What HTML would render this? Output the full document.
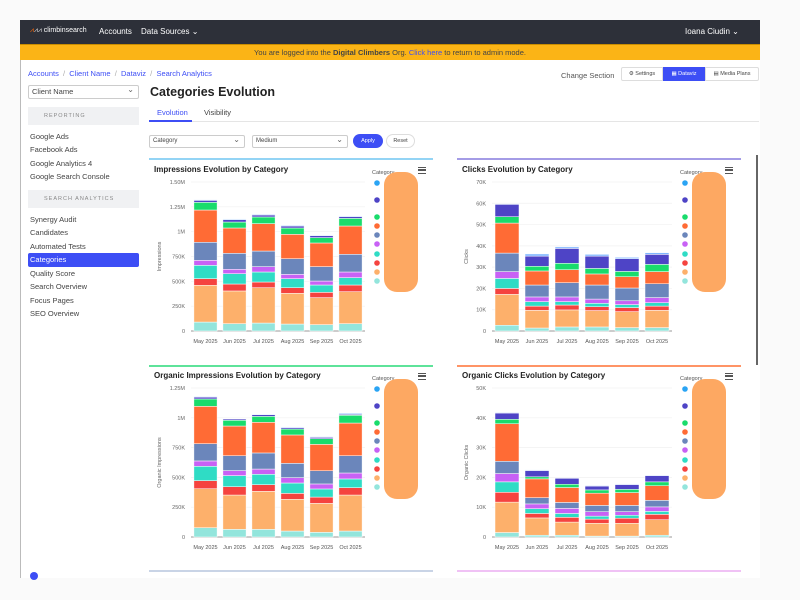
<!DOCTYPE html>
<html><head><meta charset="utf-8">
<style>
*{box-sizing:border-box;margin:0;padding:0}
body{width:800px;height:600px;background:#fafafa;font-family:"Liberation Sans",sans-serif;position:relative;overflow:hidden;color:#333}
.abs{position:absolute}
#app{left:20px;top:20px;width:740px;height:558px;background:#fff;border-left:1px solid #bbb}
#topbar{left:20px;top:20px;width:740px;height:24px;background:#2d3039;color:#fff;font-size:8px}
#banner{left:20px;top:44px;width:740px;height:16px;background:#fbb416;font-size:7.5px;color:#444;text-align:center;line-height:16px;border-top:1px solid #c98d00}
.side-item{position:absolute;left:30px;font-size:7.5px;color:#444}
.sec{position:absolute;left:28px;width:111px;height:18px;background:#f0f1f3;font-size:5.5px;letter-spacing:1px;color:#888;line-height:18px;padding-left:16px}
.card-top{position:absolute;height:2px}
.btn{position:absolute;font-size:5.5px;text-align:center;line-height:13px;height:14px;border:1px solid #ddd;background:#fff;color:#444}
.sel{position:absolute;height:13px;border:1px solid #ccc;border-radius:2px;font-size:6px;line-height:11px;padding-left:3px;color:#444;background:#fff}
.sel:after{content:"⌄";position:absolute;right:4px;top:-2px;font-size:8px;color:#666}
.blob{position:absolute;width:34px;height:120px;background:#fda862;border-radius:13px}
.ham{position:absolute;width:8px;height:7px;border-top:1.5px solid #555;border-bottom:1.5px solid #555}
.ham:after{content:"";position:absolute;left:0;top:1.3px;width:8px;height:1.5px;background:#555}
</style></head><body>
<div id="app" class="abs"></div>
<div id="topbar" class="abs">
  <div class="abs" style="left:10px;top:7px;font-size:7px"><span style="color:#f60">⩘</span><span style="color:#ddd">⩘⩘</span> climbinsearch</div>
  <div class="abs" style="left:79px;top:7px">Accounts</div>
  <div class="abs" style="left:121px;top:7px">Data Sources ⌄</div>
  <div class="abs" style="left:665px;top:7px">Ioana Ciudin ⌄</div>
</div>
<div id="banner" class="abs">You are logged into the <b>Digital Climbers</b> Org. <span style="color:#3d4ef5">Click here</span> to return to admin mode.</div>

<div class="abs" style="left:28px;top:69px;font-size:7.5px;color:#3d4ef5">Accounts <span style="color:#aaa">&nbsp;/&nbsp;</span> Client Name <span style="color:#aaa">&nbsp;/&nbsp;</span> Dataviz <span style="color:#aaa">&nbsp;/&nbsp;</span> Search Analytics</div>
<div class="sel" style="left:28px;top:85px;width:111px;height:14px;font-size:7.5px;line-height:12px">Client Name</div>
<div class="sec" style="top:107px">REPORTING</div>
<div class="side-item" style="top:132px">Google Ads</div>
<div class="side-item" style="top:145px">Facebook Ads</div>
<div class="side-item" style="top:159px">Google Analytics 4</div>
<div class="side-item" style="top:172px">Google Search Console</div>
<div class="sec" style="top:190px">SEARCH ANALYTICS</div>
<div class="side-item" style="top:215px">Synergy Audit</div>
<div class="side-item" style="top:228px">Candidates</div>
<div class="side-item" style="top:242px">Automated Tests</div>
<div class="abs" style="left:28px;top:253px;width:111px;height:14px;background:#3d4ef5;border-radius:2px"></div>
<div class="side-item" style="top:255px;color:#fff">Categories</div>
<div class="side-item" style="top:269px">Quality Score</div>
<div class="side-item" style="top:282px">Search Overview</div>
<div class="side-item" style="top:296px">Focus Pages</div>
<div class="side-item" style="top:309px">SEO Overview</div>
<div class="abs" style="left:30px;top:572px;width:8px;height:8px;border-radius:50%;background:#3d4ef5"></div>

<div class="abs" style="left:150px;top:85px;font-size:12.5px;font-weight:bold;color:#222">Categories Evolution</div>
<div class="abs" style="left:561px;top:71px;font-size:7.5px;color:#555">Change Section</div>
<div class="btn" style="left:621px;top:67px;width:42px;border-radius:2px 0 0 2px">⚙ Settings</div>
<div class="btn" style="left:663px;top:67px;width:42px;background:#3d4ef5;color:#fff;border-color:#3d4ef5">▦ Dataviz</div>
<div class="btn" style="left:705px;top:67px;width:54px;border-radius:0 2px 2px 0">▤ Media Plans</div>
<div class="abs" style="left:157px;top:108px;font-size:7.5px;color:#3d4ef5">Evolution</div>
<div class="abs" style="left:204px;top:108px;font-size:7.5px;color:#444">Visibility</div>
<div class="abs" style="left:149px;top:121px;width:610px;height:1px;background:#e5e5e5"></div>
<div class="abs" style="left:149px;top:120px;width:43px;height:2px;background:#3d4ef5"></div>
<div class="sel" style="left:149px;top:135px;width:96px">Category</div>
<div class="sel" style="left:252px;top:135px;width:96px">Medium</div>
<div class="abs" style="left:353px;top:134px;width:30px;height:14px;border-radius:7px;background:#3d4ef5;color:#fff;font-size:5.5px;text-align:center;line-height:14px">Apply</div>
<div class="abs" style="left:386px;top:134px;width:29px;height:14px;border-radius:7px;border:1px solid #ddd;color:#444;font-size:5.5px;text-align:center;line-height:12px">Reset</div>
<div class="abs" style="left:756px;top:155px;width:2px;height:210px;background:#666"></div>

<div class="card-top" style="left:149px;top:158px;width:284px;background:#93d4f5"></div>
<div class="card-top" style="left:457px;top:158px;width:284px;background:#a49ce6"></div>
<div class="card-top" style="left:149px;top:365px;width:284px;background:#5ee39a"></div>
<div class="card-top" style="left:457px;top:365px;width:284px;background:#ff9466"></div>
<div class="card-top" style="left:149px;top:570px;width:284px;background:#c9d4e6"></div>
<div class="card-top" style="left:457px;top:570px;width:284px;background:#f0c2f5"></div>

<svg id="charts" class="abs" style="left:0;top:0" width="800" height="600"></svg>

<div class="ham" style="left:418px;top:167px"></div>
<div class="ham" style="left:725px;top:167px"></div>
<div class="ham" style="left:418px;top:373px"></div>
<div class="ham" style="left:725px;top:373px"></div>
<div class="blob" style="left:384px;top:172px"></div>
<div class="blob" style="left:692px;top:172px"></div>
<div class="blob" style="left:384px;top:379px"></div>
<div class="blob" style="left:692px;top:379px"></div>

<script>
const months = ["May 2025","Jun 2025","Jul 2025","Aug 2025","Sep 2025","Oct 2025"];
const seriesColors = ["#93e5dc","#fdb06b","#f5433f","#2fdcc5","#c861f5","#6b86bb","#ff6b35","#19dc6c","#4e44c6","#7fb6ff"];
const legendColors = ["#2aa4f4","#4e44c6","#19dc6c","#ff6b35","#6b86bb","#c861f5","#2fdcc5","#f5433f","#fdb06b","#93e5dc"];
// stacked segments bottom->top per month (impressions in K)
const impressions = [
 [90,370,67,134,50,182,325,77,20,7],
 [74,329,70,104,44,161,255,60,24,7],
 [80,356,57,101,54,157,276,67,20,7],
 [70,309,57,91,43,158,245,64,20,7],
 [64,272,53,74,40,145,238,54,20,6],
 [74,322,67,74,57,178,285,77,17,7]];
const clicks = [
 [2.7,14.5,2.8,4.7,3.2,8.7,14.1,3.0,5.8,0.3],
 [1.4,8.3,2.0,2.1,2.2,5.6,6.6,2.2,4.8,1.0],
 [1.9,8.0,2.3,1.6,2.2,6.7,6.1,3.0,7.0,0.7],
 [1.9,7.7,1.8,1.6,2.0,6.6,5.2,2.6,5.8,0.8],
 [1.6,7.5,1.9,1.4,1.8,6.0,5.3,2.5,6.0,0.6],
 [1.6,8.1,2.0,1.6,2.4,6.5,5.7,3.4,4.7,0.8]];
const organicImpressions = [
 [78,327,68,120,45,145,313,62,16,5],
 [64,288,70,93,42,125,249,48,11,3],
 [64,319,56,87,44,135,257,50,14,5],
 [50,266,50,87,45,120,238,50,11,6],
 [39,243,53,68,42,111,221,48,11,6],
 [50,302,62,73,50,145,274,65,8,8]];
const organicClicks = [
 [1.5,10.2,3.3,3.5,2.8,4.1,12.6,1.5,2.1,0.2],
 [0.6,5.8,1.5,1.6,1.6,2.1,6.3,0.7,2.1,0.2],
 [0.6,4.4,1.6,1.3,1.7,2.0,5.0,1.1,2.0,0.2],
 [0.3,4.3,1.4,1.0,1.5,2.1,4.1,1.1,1.3,0.2],
 [0.3,4.3,1.7,1.0,1.2,2.1,4.3,1.1,1.6,0.2],
 [0.6,5.2,1.8,1.0,1.5,2.2,4.9,1.3,2.1,0.2]];
const impTicks = [0,250,500,750,1000,1250,1500];
const impTickLabels = ["0","250K","500K","750K","1M","1.25M","1.50M"];
const clickTicks = [0,10,20,30,40,50,60,70];
const clickTickLabels = ["0","10K","20K","30K","40K","50K","60K","70K"];
const orgImpTicks = [0,250,500,750,1000,1250];
const orgImpTickLabels = ["0","250K","500K","750K","1M","1.25M"];
const orgClickTicks = [0,10,20,30,40,50];
const orgClickTickLabels = ["0","10K","20K","30K","40K","50K"];

const NS="http://www.w3.org/2000/svg";
const svg=document.getElementById("charts");
function mk(tag,attrs,parent){const e=document.createElementNS(NS,tag);for(const k in attrs)e.setAttribute(k,attrs[k]);(parent||svg).appendChild(e);return e;}

function drawChart(cfg){
  const g=mk("g",{});
  
  
  const maxV=cfg.ticks[cfg.ticks.length-1];
  const y=v=>cfg.y0-(v/maxV)*(cfg.y0-cfg.yTop);
  const step=(cfg.x1-cfg.x0)/months.length;
  const x=i=>cfg.x0+step*(i+0.5);
  const t=mk("text",{x:cfg.cardX+5,y:cfg.cardY+13,"font-size":"8px","font-weight":"bold",fill:"#222"},g);
  t.textContent=cfg.title;
  
  
  cfg.ticks.forEach((v,i)=>{
    const gl=mk("line",{x1:cfg.x0,x2:cfg.x1,y1:y(v),y2:y(v),stroke:i==0?"#999":"#f0f0f0","stroke-width":i==0?1:0.7},g);
    
    
    const tl=mk("text",{x:cfg.x0-6,y:y(v)+2,"font-size":"5.5px",fill:"#666","text-anchor":"end"},g);
    tl.textContent=cfg.labels[i];
    
    
  });
  const at=mk("text",{transform:`translate(${cfg.axisX},${(cfg.y0+cfg.yTop)/2}) rotate(-90)`,"font-size":"5.5px",fill:"#666","text-anchor":"middle"},g);
  at.textContent=cfg.axisTitle;
  
  
  const bw=step*0.8;
  cfg.data.forEach((segs,i)=>{
    let acc=0;
    segs.forEach((v,s)=>{
      const r=mk("rect",{x:x(i)-bw/2,y:y(acc+v),width:bw,height:Math.max(0,y(acc)-y(acc+v)),fill:seriesColors[s],stroke:"#fff","stroke-width":0.5},g);
      
      
      acc+=v;
    });
    const xl=mk("text",{x:x(i),y:cfg.y0+12,"font-size":"5.5px",fill:"#555","text-anchor":"middle"},g);
    xl.textContent=months[i];
    
    
  });
  const lt=mk("text",{x:cfg.legX-5,y:cfg.cardY+15,"font-size":"5.5px",fill:"#555"},g);
  lt.textContent="Category";
  
  
  const ly=[24,41,58,67,76,85,95,104,113,122];
  legendColors.forEach((c,k)=>{
    const d=mk("circle",{cx:cfg.legX,cy:cfg.cardY+ly[k],r:2.8,fill:c},g);
    
    
  });
}
drawChart({name:"impressions-chart",title:"Impressions Evolution by Category",cardX:149,cardY:159,x0:191,x1:365,y0:331,yTop:182,ticks:impTicks,labels:impTickLabels,data:impressions,axisTitle:"Impressions",axisX:161,legX:377});
drawChart({name:"clicks-chart",title:"Clicks Evolution by Category",cardX:457,cardY:159,x0:492,x1:672,y0:331,yTop:182,ticks:clickTicks,labels:clickTickLabels,data:clicks,axisTitle:"Clicks",axisX:468,legX:685});
drawChart({name:"organic-impressions-chart",title:"Organic Impressions Evolution by Category",cardX:149,cardY:365,x0:191,x1:365,y0:537,yTop:388,ticks:orgImpTicks,labels:orgImpTickLabels,data:organicImpressions,axisTitle:"Organic Impressions",axisX:161,legX:377});
drawChart({name:"organic-clicks-chart",title:"Organic Clicks Evolution by Category",cardX:457,cardY:365,x0:492,x1:672,y0:537,yTop:388,ticks:orgClickTicks,labels:orgClickTickLabels,data:organicClicks,axisTitle:"Organic Clicks",axisX:468,legX:685});
</script>
</body></html>
